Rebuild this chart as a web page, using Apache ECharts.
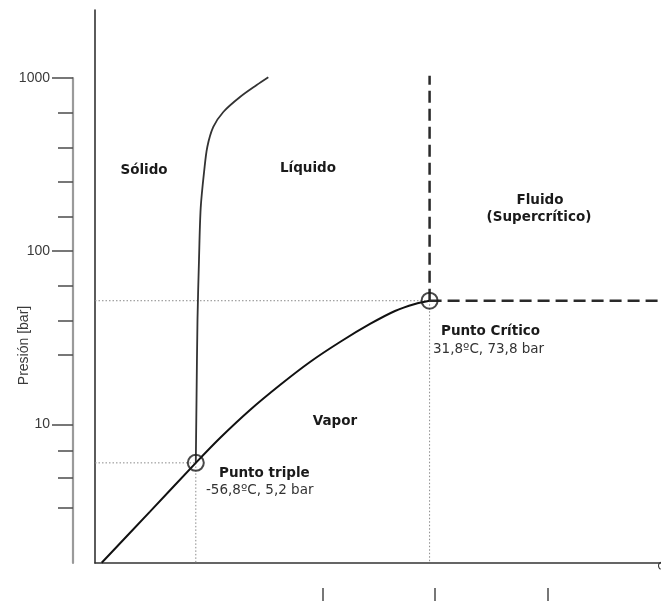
<!DOCTYPE html>
<html><head><meta charset="utf-8">
<script src="https://cdn.jsdelivr.net/npm/echarts@6/dist/echarts.min.js"></script>
<style>html,body{margin:0;padding:0;background:#fff}#c{width:661px;height:601px}</style>
</head><body><div id="c"></div>
<script>
// ---- data (temperature in °C, pressure in bar) ----
const meltT = [-56.8, -56.53, -56.16, -55.59, -54.94, -53.58, -52.44, -50.17, -46.38, -40.05, -33.72, -29.32];
const meltP = [6.0, 13.8, 40.1, 89, 178, 295, 400, 522, 637, 777, 911, 1010];
const vapT = [-92.46, -74.16, -56.8, -47.63, -36.26, -24.89, -13.52, -2.15, 9.22, 18.69, 26.27, 31.8];
const vapP = [1.59, 3.14, 6.0, 8.35, 12.12, 16.89, 22.94, 29.92, 38.02, 45.18, 49.6, 51.8];
const tripleT = -56.8, tripleP = 6.0;
const critT = 31.8, critP = 51.8;
const fluidTopP = 1030;
// axis ranges and ticks
const xMin = -95, xMax = 119.5;
const logMin = 0.2, logTickTop = 3, logMax = 3.393;
const yMajorTicks = [1, 2, 3];           // log10 of 10, 100, 1000
const yMinorTicks = [0.52, 0.69, 0.85, 1.4, 1.6, 1.8, 2.2, 2.4, 2.6, 2.8];
const xTicks = [-8.8, 33.8, 76.7];

const zip = (a, b) => a.map((v, i) => [v, b[i]]);
const yMin = Math.pow(10, logMin), yMax = Math.pow(10, logMax);

function seg(pts, style, z) {
  return { type: 'line', xAxisIndex: 0, yAxisIndex: 0, data: pts, showSymbol: false, symbol: 'none',
    silent: true, animation: false, lineStyle: style, z: z || 2 };
}
const dotted = { color: '#8a8a8a', width: 1, type: [1.5, 2] };
const dashed = { color: '#2a2a2a', width: 2.5, type: [12, 6] };
const bold = { fontFamily: 'DejaVu Sans', fontWeight: 'bold', fontSize: 13.5, fill: '#1a1a1a' };
const norm = { fontFamily: 'DejaVu Sans', fontSize: 13.5, fill: '#333' };

const chart = echarts.init(document.getElementById('c'));
chart.setOption({
  animation: false,
  backgroundColor: '#fff',
  grid: [
    { left: 95, right: 0, top: 10, bottom: 38, outerBoundsMode: 'none' },
    { left: 73, width: 20, top: 78, bottom: 38, outerBoundsMode: 'none' }
  ],
  xAxis: [
    { gridIndex: 0, type: 'value', min: xMin, max: xMax,
      axisLine: { show: true, onZero: false, lineStyle: { color: '#333', width: 1.6 } },
      axisTick: { show: false }, axisLabel: { show: false }, splitLine: { show: false } },
    { gridIndex: 0, type: 'value', min: xMin, max: xMax, position: 'bottom', offset: 25,
      axisLine: { show: false, onZero: false },
      axisTick: { show: true, customValues: xTicks, length: 13, lineStyle: { color: '#777', width: 2 } },
      axisLabel: { show: false }, splitLine: { show: false } },
    { gridIndex: 1, type: 'value', show: false }
  ],
  yAxis: [
    { gridIndex: 0, type: 'log', min: yMin, max: yMax,
      axisLine: { show: true, onZero: false, lineStyle: { color: '#333', width: 1.6 } },
      axisTick: { show: false }, axisLabel: { show: false }, splitLine: { show: false }, minorTick: { show: false } },
    { gridIndex: 1, type: 'value', min: logMin, max: logTickTop, position: 'left',
      axisLine: { show: true, onZero: false, lineStyle: { color: '#9a9a9a', width: 2.2 } },
      axisTick: { show: true, customValues: yMinorTicks, length: 15, lineStyle: { color: '#555', width: 1.6 } },
      axisLabel: { show: false }, splitLine: { show: false } },
    { gridIndex: 1, type: 'value', min: logMin, max: logTickTop, position: 'left',
      axisLine: { show: false, onZero: false },
      axisTick: { show: true, customValues: yMajorTicks, length: 21, lineStyle: { color: '#555', width: 1.6 } },
      axisLabel: { show: true, customValues: yMajorTicks, margin: 23, color: '#3a3a3a',
        fontFamily: 'Liberation Sans', fontSize: 14,
        formatter: v => String(Math.round(Math.pow(10, v))) },
      splitLine: { show: false },
      name: 'Presión [bar]', nameLocation: 'middle', nameGap: 42, nameRotate: 90, nameMoveOverlap: false,
      nameTextStyle: { color: '#3a3a3a', fontFamily: 'Liberation Sans', fontSize: 14, padding: [0, 50, 0, 0] } }
  ],
  series: [
    seg([[xMin, critP], [critT, critP]], dotted, 1),
    seg([[critT, critP], [critT, yMin]], dotted, 1),
    seg([[xMin, tripleP], [tripleT, tripleP]], dotted, 1),
    seg([[tripleT, tripleP], [tripleT, yMin]], dotted, 1),
    seg([[critT, critP], [critT, fluidTopP]], dashed, 3),
    seg([[critT, critP], [xMax, critP]], dashed, 3),
    Object.assign(seg(zip(meltT, meltP), { color: '#333', width: 1.8 }, 4), { smooth: 0.3 }),
    Object.assign(seg(zip(vapT, vapP), { color: '#111', width: 2 }, 4), { smooth: 0.3 }),
    { type: 'scatter', xAxisIndex: 0, yAxisIndex: 0, z: 6, silent: true, animation: false,
      data: [[tripleT, tripleP], [critT, critP]], symbol: 'circle', symbolSize: 16,
      itemStyle: { color: 'rgba(0,0,0,0)', borderColor: '#1a1a1a', borderWidth: 2 } }
  ],
  graphic: [
    { type: 'text', x: 144, y: 170, style: Object.assign({ text: 'Sólido', align: 'center', verticalAlign: 'middle' }, bold) },
    { type: 'text', x: 308, y: 168, style: Object.assign({ text: 'Líquido', align: 'center', verticalAlign: 'middle' }, bold) },
    { type: 'text', x: 540, y: 200, style: Object.assign({ text: 'Fluido', align: 'center', verticalAlign: 'middle' }, bold) },
    { type: 'text', x: 539, y: 217, style: Object.assign({ text: '(Supercrítico)', align: 'center', verticalAlign: 'middle' }, bold) },
    { type: 'text', x: 335, y: 421, style: Object.assign({ text: 'Vapor', align: 'center', verticalAlign: 'middle' }, bold) },
    { type: 'text', x: 219, y: 473, style: Object.assign({ text: 'Punto triple', align: 'left', verticalAlign: 'middle' }, bold) },
    { type: 'text', x: 206, y: 490, style: Object.assign({ text: '-56,8ºC, 5,2 bar', align: 'left', verticalAlign: 'middle' }, norm) },
    { type: 'text', x: 441, y: 331, style: Object.assign({ text: 'Punto Crítico', align: 'left', verticalAlign: 'middle' }, bold) },
    { type: 'text', x: 433, y: 349, style: Object.assign({ text: '31,8ºC, 73,8 bar', align: 'left', verticalAlign: 'middle' }, norm) },
    { type: 'text', x: 662, y: 563, rotation: -Math.PI / 2, style: { text: 'ºC', fontFamily: 'Liberation Sans', fontSize: 13, fill: '#333', align: 'center', verticalAlign: 'middle' } }
  ]
});
</script></body></html>
